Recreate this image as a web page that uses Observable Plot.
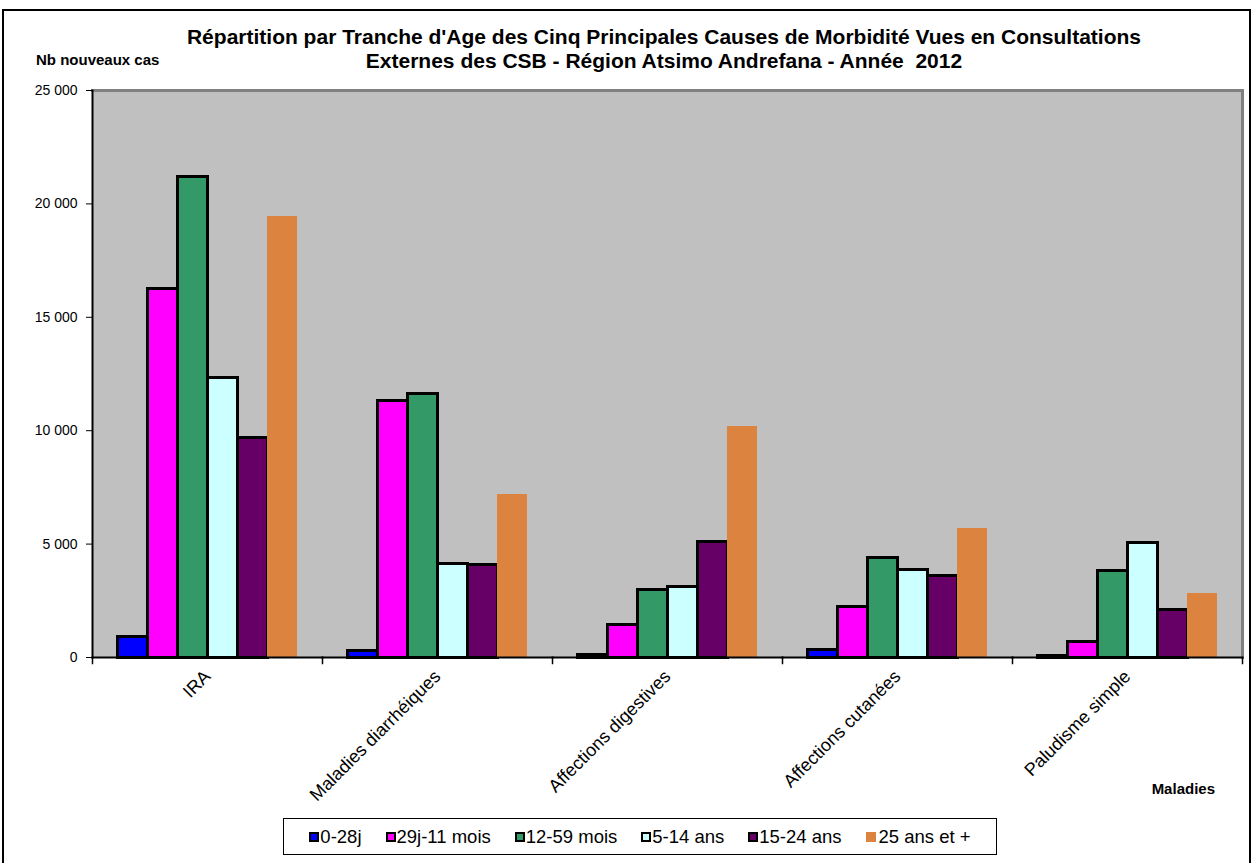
<!DOCTYPE html>
<html><head><meta charset="utf-8">
<script src="https://cdn.jsdelivr.net/npm/d3@7"></script>
<script src="https://cdn.jsdelivr.net/npm/@observablehq/plot@0.6"></script>
<style>
body{margin:0;background:#fff;font-family:Arial,"Liberation Sans",sans-serif;}
#wrap{position:relative;width:1254px;height:863px;overflow:hidden;background:#fff;}
#border{position:absolute;left:2px;top:9px;width:1249px;height:870px;border:2px solid #000;box-sizing:border-box;}
#chart{position:absolute;left:0;top:0;}
#chart rect{shape-rendering:crispEdges;}
#title{position:absolute;left:74px;width:1180px;top:25px;text-align:center;font-weight:bold;font-size:21px;line-height:24px;white-space:pre;color:#000;}
#ylabel{position:absolute;left:36px;top:51px;font-weight:bold;font-size:15px;color:#000;}
#xlabel{position:absolute;right:39px;top:780px;font-weight:bold;font-size:15px;color:#000;}
#legend{position:absolute;left:283px;top:818px;width:714px;height:37px;border:1.5px solid #000;box-sizing:border-box;background:#fff;display:flex;align-items:center;justify-content:center;gap:24px;font-size:18.5px;color:#000;}
#legend .item{display:flex;align-items:center;white-space:nowrap;}
#legend .sw{width:6px;height:6px;border:2px solid #000;margin-right:1px;}
</style></head><body>
<div id="wrap">
 <div id="border"></div>
 <div id="chart"></div>
 <div id="title"></div>
 <div id="ylabel">Nb nouveaux cas</div>
 <div id="xlabel">Maladies</div>
 <div id="legend"></div>
</div>
<script>
const titleLines = ["Répartition par Tranche d'Age des Cinq Principales Causes de Morbidité Vues en Consultations", "Externes des CSB - Région Atsimo Andrefana - Année  2012"];
const categories = ["IRA", "Maladies diarrhéiques", "Affections digestives", "Affections cutanées", "Paludisme simple"];
const ageGroups = ["0-28j", "29j-11 mois", "12-59 mois", "5-14 ans", "15-24 ans", "25 ans et +"];
const v0_28j   = [920, 280, 100, 310, 50];
const v29j_11m = [16240, 11290, 1450, 2230, 690];
const v12_59m  = [21200, 11610, 2970, 4380, 3830];
const v5_14    = [12320, 4130, 3120, 3880, 5040];
const v15_24   = [9660, 4070, 5100, 3590, 2090];
const v25plus  = [19430, 7180, 10170, 5680, 2810];
const yTicks = [0, 5000, 10000, 15000, 20000, 25000];
const colors = ["#0000FF", "#FF00FF", "#339966", "#CCFFFF", "#660066", "#DC843F"];

const series = [v0_28j, v29j_11m, v12_59m, v5_14, v15_24, v25plus];
const data = [];
categories.forEach((c, i) => ageGroups.forEach((a, j) => data.push({cat: c, age: a, value: series[j][i]})));
const lastAge = ageGroups[ageGroups.length - 1];

document.getElementById("title").textContent = titleLines.join("\n");

const fmt = d3.formatLocale({decimal: ",", thousands: " ", grouping: [3], currency: ["", "€"]}).format(",");

const W = 1254, H = 863, mT = 90, mL = 92, mR = 12, mB = 206;
const plotH = H - mT - mB;

const chart = Plot.plot({
  width: W, height: H,
  marginTop: mT, marginLeft: mL, marginRight: mR, marginBottom: mB,
  style: {fontFamily: "Arial, 'Liberation Sans', sans-serif", fontSize: "14px", color: "#000", background: "transparent", overflow: "visible"},
  fx: {domain: categories, padding: 0, label: null},
  x: {domain: ageGroups, paddingInner: 0, paddingOuter: 0.73, axis: null},
  y: {domain: [0, 25000], label: null},
  color: {domain: ageGroups, range: colors},
  marks: [
    Plot.frame({fill: "#C0C0C0"}),
    Plot.frame({anchor: "top", stroke: "#808080", strokeWidth: 3}),
    Plot.frame({anchor: "right", stroke: "#808080", strokeWidth: 3, facetAnchor: "right"}),
    Plot.barY(data, {filter: d => d.age !== lastAge, fx: "cat", x: "age", y: "value", fill: "age", stroke: "#000", strokeWidth: 3}),
    Plot.barY(data, {filter: d => d.age === lastAge, fx: "cat", x: "age", y: "value", fill: "age"}),
    Plot.frame({anchor: "bottom", stroke: "#000", strokeWidth: 2}),
    Plot.frame({anchor: "left", stroke: "#000", strokeWidth: 2, facetAnchor: "left"}),
    Plot.frame({anchor: "left", stroke: "#000", strokeWidth: 1.5, insetTop: plotH, insetBottom: -6}),
    Plot.frame({anchor: "right", stroke: "#000", strokeWidth: 1.5, insetTop: plotH, insetBottom: -6, facetAnchor: "right"}),
    Plot.axisY({ticks: yTicks, tickSize: 6, tickPadding: 9, tickFormat: fmt, fontSize: 14, label: null}),
    Plot.axisFx({anchor: "bottom", tickSize: 0, tickRotate: -45, tickPadding: 16, fontSize: 18, label: null})
  ]
});
document.getElementById("chart").appendChild(chart);
// enforce label font sizes
d3.select(chart).selectAll("text").each(function() {
  const s = d3.select(this);
  s.style("font-size", categories.includes(this.textContent) ? "18px" : "14px").style("fill", "#000");
});

const legend = document.getElementById("legend");
ageGroups.forEach((a, j) => {
  const item = document.createElement("div");
  item.className = "item";
  const sw = document.createElement("span");
  sw.className = "sw";
  sw.style.background = colors[j];
  if (a === lastAge) { sw.style.border = "none"; sw.style.width = "10px"; sw.style.height = "10px"; sw.style.marginRight = "3px"; }
  item.appendChild(sw);
  const t = document.createElement("span");
  t.textContent = a;
  item.appendChild(t);
  legend.appendChild(item);
});
</script>
</body></html>
